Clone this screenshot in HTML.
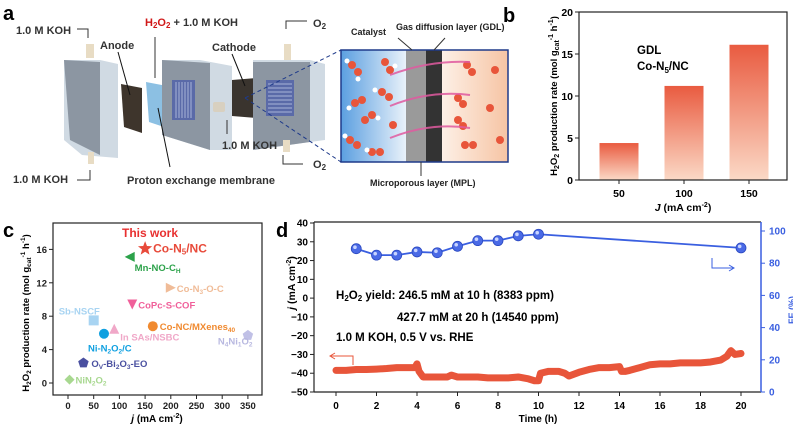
<!DOCTYPE html>
<html><head><meta charset="utf-8">
<style>
html,body{margin:0;padding:0;background:#fff;}
svg{display:block;font-family:"Liberation Sans",sans-serif;}
text{font-weight:bold;}
</style></head>
<body>
<svg id="fig" width="793" height="430" viewBox="0 0 793 430" xmlns="http://www.w3.org/2000/svg">
<defs>
<linearGradient id="barg" x1="0" y1="0" x2="0" y2="1"><stop offset="0" stop-color="#e95b40"/><stop offset="1" stop-color="#fbd9c6"/></linearGradient>
<linearGradient id="elec" x1="0" y1="0" x2="1" y2="0"><stop offset="0" stop-color="#5b9fe0"/><stop offset="1" stop-color="#f4f8fc"/></linearGradient>
<linearGradient id="gas" x1="0" y1="0" x2="1" y2="0"><stop offset="0" stop-color="#fdf0e6"/><stop offset="1" stop-color="#f6c4a4"/></linearGradient>
</defs>

<g>
<text x="3" y="20" font-size="20">a</text>
<text x="16" y="34" font-size="11" fill="#333">1.0 M KOH</text>
<path d="M77 29 H88 V38" stroke="#333" fill="none"/>
<text x="145" y="26" font-size="11" fill="#333"><tspan fill="#d01818">H<tspan font-size="8" dy="2">2</tspan><tspan dy="-2">O</tspan><tspan font-size="8" dy="2">2</tspan></tspan><tspan dy="-2"> + 1.0 M KOH</tspan></text>
<path d="M155 78 V37" stroke="#333"/>
<text x="313" y="27" font-size="11" fill="#333">O<tspan font-size="8" dy="2">2</tspan></text>
<path d="M307 21 H286 V29" stroke="#333" fill="none"/>
<rect x="86" y="44" width="8" height="14" fill="#e8dcc4"/>
<polygon points="64,60 100,60 118,64 118,158 82,155 64,140" fill="#d0dae3"/>
<polygon points="64,60 100,62 100,155 70,140" fill="#8c96a2"/>
<rect x="88" y="152" width="6" height="12" fill="#e8dcc4"/>
<polygon points="121,84 142,88 142,133 124,127" fill="#3e352c"/>
<text x="100" y="49" font-size="11" fill="#333">Anode</text>
<path d="M118 52 L130 95" stroke="#111"/>
<polygon points="146,82 167,86 167,128 149,122" fill="#7fb9e0" opacity="0.9"/>
<polygon points="162,60 200,60 232,66 232,150 210,150 162,135" fill="#d0dae3"/>
<polygon points="162,60 210,63 210,150 162,135" fill="#8c96a2"/>
<rect x="172" y="80" width="23" height="40" fill="#5a6aa8"/>
<g stroke="#a8b4d8" stroke-width="1"><path d="M176 82 V118 M179 82 V118 M182 82 V118 M185 82 V118 M188 82 V118 M191 82 V118"/></g>
<rect x="213" y="102" width="12" height="10" rx="2" fill="#d8d0c0"/>
<polygon points="232,80 257,78 257,118 232,116" fill="#3a342e"/>
<text x="212" y="51" font-size="11" fill="#333">Cathode</text>
<path d="M232 54 L245 86" stroke="#111"/>
<rect x="284" y="44" width="7" height="16" fill="#e8dcc4"/>
<polygon points="253,60 310,60 325,64 325,140 310,142 253,150" fill="#d0dae3"/>
<polygon points="253,62 310,62 310,142 253,150" fill="#8c96a2"/>
<rect x="266" y="80" width="28" height="36" fill="#5a6aa8"/>
<g stroke="#a8b4d8"><path d="M268 84 H292 M268 88 H292 M268 92 H292 M268 96 H292 M268 100 H292 M268 104 H292 M268 108 H292 M268 112 H292"/></g>
<rect x="283" y="140" width="7" height="12" fill="#e8dcc4"/>
<text x="222" y="149" font-size="11" fill="#333">1.0 M KOH</text>
<path d="M227 134 V120" stroke="#333"/>
<text x="313" y="168" font-size="11" fill="#333">O<tspan font-size="8" dy="2">2</tspan></text>
<path d="M283 155 V164 H303" stroke="#333" fill="none"/>
<text x="13" y="183" font-size="11" fill="#333">1.0  M KOH</text>
<path d="M77 180 H90 V170" stroke="#333" fill="none"/>
<text x="127" y="184" font-size="11" fill="#333">Proton exchange membrane</text>
<path d="M170 167 L158 108" stroke="#111"/>
<path d="M245 98 L341 50 M245 98 L341 162" stroke="#1e3a8a" stroke-dasharray="4,3"/>
<rect x="341" y="50" width="70" height="112" fill="url(#elec)"/>
<rect x="406" y="50" width="20" height="112" fill="#9a9a9a"/>
<rect x="426" y="50" width="16" height="112" fill="#333"/>
<rect x="442" y="50" width="66" height="112" fill="url(#gas)"/>
<rect x="341" y="50" width="167" height="112" fill="none" stroke="#1e3a8a" stroke-width="1.5"/>
<g fill="#e8553a">
<circle cx="352" cy="65" r="4"/><circle cx="358" cy="72" r="4"/><circle cx="385" cy="62" r="4"/><circle cx="390" cy="70" r="4"/>
<circle cx="382" cy="92" r="4"/><circle cx="389" cy="97" r="4"/><circle cx="355" cy="103" r="4"/><circle cx="362" cy="100" r="4"/>
<circle cx="365" cy="120" r="4"/><circle cx="372" cy="115" r="4"/><circle cx="393" cy="125" r="4"/><circle cx="350" cy="140" r="4"/><circle cx="357" cy="145" r="4"/>
<circle cx="372" cy="152" r="4"/><circle cx="380" cy="152" r="4"/><circle cx="467" cy="65" r="4"/><circle cx="472" cy="72" r="4"/><circle cx="495" cy="70" r="4"/>
<circle cx="458" cy="98" r="4"/><circle cx="463" cy="104" r="4"/><circle cx="490" cy="108" r="4"/><circle cx="458" cy="120" r="4"/><circle cx="463" cy="126" r="4"/>
<circle cx="465" cy="145" r="4"/><circle cx="473" cy="145" r="4"/><circle cx="500" cy="140" r="4"/></g>
<g fill="#fff"><circle cx="347" cy="61" r="2.5"/><circle cx="358" cy="79" r="2.5"/><circle cx="395" cy="66" r="2.5"/><circle cx="375" cy="90" r="2.5"/><circle cx="349" cy="108" r="2.5"/><circle cx="378" cy="118" r="2.5"/><circle cx="345" cy="136" r="2.5"/><circle cx="367" cy="150" r="2.5"/></g>
<g stroke="#e05aa0" stroke-width="2" fill="none" opacity="0.85"><path d="M390 75 Q430 60 470 62"/><path d="M390 106 Q430 90 470 95"/><path d="M390 138 Q430 122 470 128"/></g>
<text x="351" y="35" font-size="9" fill="#222">Catalyst</text>
<text x="396" y="30" font-size="9" fill="#222">Gas  diffusion layer (GDL)</text>
<path d="M398 38 L412 50 M445 38 L434 50" stroke="#333"/>
<text x="370" y="186" font-size="9" fill="#222">Microporous layer (MPL)</text>
<path d="M421 162 V176" stroke="#333"/>
</g>

<g id="pb"><text x="503" y="22" font-size="20">b</text></g>
<g id="pc"><text x="3" y="237" font-size="20">c</text></g>
<g id="pd"><text x="276" y="237" font-size="20">d</text></g>
</svg>
<script>
const bCategories = [50, 100, 150];
const bValues = [4.4, 11.2, 16.1];
const bYTicks = [0, 5, 10, 15, 20];
const cNames = ["Co-N5/NC","Mn-NO-CH","Co-N3-O-C","CoPc-S-COF","Sb-NSCF","In SAs/NSBC","Co-NC/MXenes40","Ni-N2O2/C","N4Ni1O2","Ov-Bi2O3-EO","NiN2O2"];
const cJ = [150, 120, 200, 125, 50, 90, 165, 70, 350, 30, 3];
const cRate = [16.1, 15.1, 11.4, 9.4, 7.5, 6.5, 6.8, 5.9, 5.7, 2.4, 0.4];
const cXTicks = [0, 50, 100, 150, 200, 250, 300, 350];
const cYTicks = [0, 4, 8, 12, 16];
const dFETime = [1, 2, 3, 4, 5, 6, 7, 8, 9, 10, 20];
const dFE = [89, 85, 85, 87, 86.5, 90.5, 94, 94, 97, 98, 89.5];
const dCurTime = [0,0.5,1,1.5,2,2.5,3,3.5,3.9,4,4.1,4.3,4.5,5,5.5,5.7,6,6.5,7,7.5,8,8.5,9,9.5,9.8,10,10.1,10.5,11,11.3,11.5,12,12.5,13,13.5,14,14.1,14.3,14.5,15,15.5,16,16.5,17,17.5,18,18.5,19,19.3,19.5,19.7,20];
const dCurrent = [-38.5,-38.5,-38,-38,-37.8,-37.5,-37,-37,-37,-35,-39,-42,-42,-42,-42,-41,-42,-42,-42,-42.5,-42.5,-42.5,-42,-43,-44,-44,-40,-39,-39,-40,-41.5,-39.5,-38,-37,-37,-36.5,-39,-39,-38.5,-37,-35.5,-35,-35,-34.5,-34.5,-34.5,-34,-33,-31,-28,-30,-29.5];
const dLeftTicks = [-50,-40,-30,-20,-10,0,10,20,30,40];
const dRightTicks = [0,20,40,60,80,100];
const dXTicks = [0,2,4,6,8,10,12,14,16,18,20];

const NS = "http://www.w3.org/2000/svg";
function mk(parent, tag, attrs, txt){const e=document.createElementNS(NS,tag);for(const k in attrs)e.setAttribute(k,attrs[k]);if(txt!==undefined)e.textContent=txt;parent.appendChild(e);return e;}

(function(){
const g=document.getElementById('pb');
const L=579,R=787,T=12,B=180;
const xb=v=>619+(v-50)*1.3, yb=v=>B-(v/20)*(B-T);
bValues.forEach((v,i)=>{const r=mk(g,'rect',{x:xb(bCategories[i])-19.5,y:yb(v),width:39,height:B-yb(v),fill:'url(#barg)'});

});
mk(g,'rect',{x:L,y:T,width:R-L,height:B-T,fill:'none',stroke:'#222','stroke-width':1.2});
bYTicks.forEach(t=>{mk(g,'line',{x1:L,x2:L-4,y1:yb(t),y2:yb(t),stroke:'#222'});
const tx=mk(g,'text',{x:L-6,y:yb(t)+4,'font-size':10.5,'text-anchor':'end'},t);

});
bCategories.forEach(c=>{mk(g,'line',{x1:xb(c),x2:xb(c),y1:B,y2:B+4,stroke:'#222'});
const tx=mk(g,'text',{x:xb(c),y:B+17,'font-size':10.5,'text-anchor':'middle'},c);

});
const t1=mk(g,'text',{x:637,y:54,'font-size':11.5},'GDL');


const t2=mk(g,'text',{x:637,y:70,'font-size':11.5});t2.innerHTML='Co-N<tspan font-size="8" dy="3">5</tspan><tspan dy="-3">/NC</tspan>';


const xl=mk(g,'text',{x:683,y:211,'font-size':10.5,'text-anchor':'middle'});xl.innerHTML='<tspan font-style="italic">J</tspan> (mA cm<tspan font-size="7" dy="-4">-2</tspan><tspan dy="4">)</tspan>';


const yl=mk(g,'text',{x:0,y:0,'font-size':9.5,'text-anchor':'middle',transform:'translate(557,96) rotate(-90)'});
yl.innerHTML='H<tspan font-size="7" dy="2">2</tspan><tspan dy="-2">O</tspan><tspan font-size="7" dy="2">2</tspan><tspan dy="-2"> production rate (mol g</tspan><tspan font-size="7" dy="2">cat</tspan><tspan font-size="7" dy="-6">-1</tspan><tspan dy="4"> h</tspan><tspan font-size="7" dy="-4">-1</tspan><tspan dy="4">)</tspan>';


})();

(function(){
const g=document.getElementById('pc');
const L=53,R=262,T=223,B=395;
const xc=v=>68+v*0.514, yc=v=>383-v*8.35;
mk(g,'rect',{x:L,y:T,width:R-L,height:B-T,fill:'none',stroke:'#222','stroke-width':1.2});
cXTicks.forEach(t=>{mk(g,'line',{x1:xc(t),x2:xc(t),y1:B,y2:B+4,stroke:'#222'});
const tx=mk(g,'text',{x:xc(t),y:B+14,'font-size':9.5,'font-weight':'normal','text-anchor':'middle',fill:'#222'},t);

});
cYTicks.forEach(t=>{mk(g,'line',{x1:L,x2:L-4,y1:yc(t),y2:yc(t),stroke:'#222'});
const tx=mk(g,'text',{x:L-6,y:yc(t)+3.5,'font-size':9.5,'font-weight':'normal','text-anchor':'end',fill:'#222'},t);

});
const colors=['#e84a3a','#2ca24a','#f0bc98','#f0609a','#a8d4f2','#f0a8c8','#f08a30','#10a0e0','#c0c0e6','#4a50a0','#a8d890'];
const shapes=['star','left','right','down','square','up','circle','circle','pent','pent','diamond'];
const labels=['Co-N<tspan font-size="8" dy="2">5</tspan><tspan dy="-2">/NC</tspan>','Mn-NO-C<tspan font-size="6.5" dy="2">H</tspan>','Co-N<tspan font-size="6.5" dy="2">3</tspan><tspan dy="-2">-O-C</tspan>','CoPc-S-COF','Sb-NSCF','In SAs/NSBC','Co-NC/MXenes<tspan font-size="6.5" dy="2">40</tspan>','Ni-N<tspan font-size="6.5" dy="2">2</tspan><tspan dy="-2">O</tspan><tspan font-size="6.5" dy="2">2</tspan><tspan dy="-2">/C</tspan>','N<tspan font-size="6.5" dy="2">4</tspan><tspan dy="-2">Ni</tspan><tspan font-size="6.5" dy="2">1</tspan><tspan dy="-2">O</tspan><tspan font-size="6.5" dy="2">2</tspan>','O<tspan font-size="6.5" dy="2">V</tspan><tspan dy="-2">-Bi</tspan><tspan font-size="6.5" dy="2">2</tspan><tspan dy="-2">O</tspan><tspan font-size="6.5" dy="2">3</tspan><tspan dy="-2">-EO</tspan>','NiN<tspan font-size="6.5" dy="2">2</tspan><tspan dy="-2">O</tspan><tspan font-size="6.5" dy="2">2</tspan>'];
const loff=[[8,4,12],[5,14,9.5],[6,4,9.5],[6,4,9.5],[-35,-6,9.5],[6,12,9.5],[7,4,9.5],[-16,18,9.5],[-30,9,9.5],[8,4,9.5],[6,4,9.5]];
const lcol=['#e84a3a','#2ca24a','#f0bc98','#f0609a','#a8d4f2','#f0a8c8','#f08a30','#10a0e0','#b8b8e0','#4a50a0','#a8d890'];
cNames.forEach((n,i)=>{const x=xc(cJ[i]),y=yc(cRate[i]),s=5,c=colors[i];let el;
if(shapes[i]==='circle')el=mk(g,'circle',{cx:x,cy:y,r:s,fill:c});
else if(shapes[i]==='square')el=mk(g,'rect',{x:x-s,y:y-s,width:2*s,height:2*s,fill:c});
else{let pts;
if(shapes[i]==='star'){pts=[];for(let k=0;k<10;k++){const a=-Math.PI/2+k*Math.PI/5,r=k%2?3.2:7.5;pts.push([x+r*Math.cos(a),y+r*Math.sin(a)]);}}
else if(shapes[i]==='pent'){pts=[];for(let k=0;k<5;k++){const a=-Math.PI/2+k*2*Math.PI/5;pts.push([x+5.5*Math.cos(a),y+5.5*Math.sin(a)]);}}
else if(shapes[i]==='left')pts=[[x-s,y],[x+s,y-s],[x+s,y+s]];
else if(shapes[i]==='right')pts=[[x+s,y],[x-s,y-s],[x-s,y+s]];
else if(shapes[i]==='down')pts=[[x-s,y-s],[x+s,y-s],[x,y+s]];
else if(shapes[i]==='up')pts=[[x-s,y+s],[x+s,y+s],[x,y-s]];
else pts=[[x,y-s],[x+s,y],[x,y+s],[x-s,y]];
el=mk(g,'polygon',{points:pts.map(p=>p.join(',')).join(' '),fill:c});}


const t=mk(g,'text',{x:x+loff[i][0],y:y+loff[i][1],'font-size':loff[i][2],fill:lcol[i]});t.innerHTML=labels[i];

});
const tw=mk(g,'text',{x:122,y:237,'font-size':12,fill:'#e83030'},'This work');


const xl=mk(g,'text',{x:157,y:422,'font-size':10,'text-anchor':'middle'});xl.innerHTML='<tspan font-style="italic">j</tspan> (mA cm<tspan font-size="7" dy="-4">-2</tspan><tspan dy="4">)</tspan>';


const yl=mk(g,'text',{x:0,y:0,'font-size':9.5,'text-anchor':'middle',transform:'translate(29,313) rotate(-90)'});
yl.innerHTML='H<tspan font-size="6.5" dy="2">2</tspan><tspan dy="-2">O</tspan><tspan font-size="6.5" dy="2">2</tspan><tspan dy="-2"> production rate (mol g</tspan><tspan font-size="6.5" dy="2">cat</tspan><tspan font-size="6.5" dy="-6">-1</tspan><tspan dy="4"> h</tspan><tspan font-size="6.5" dy="-4">-1</tspan><tspan dy="4">)</tspan>';


})();

(function(){
const g=document.getElementById('pd');
const L=314,R=761,T=222,B=392;
const xd=v=>336+v*20.25, yl=v=>392-(v+50)*(169/90), yr=v=>392-v*1.61;
const cp=mk(g,'polyline',{points:dCurTime.map((t,i)=>xd(t)+','+yl(dCurrent[i])).join(' '),fill:'none',stroke:'#e8553a','stroke-width':7,'stroke-linejoin':'round','stroke-linecap':'round'});


const fl=mk(g,'polyline',{points:dFETime.map((t,i)=>xd(t)+','+yr(dFE[i])).join(' '),fill:'none',stroke:'#3a5fe0','stroke-width':1.8});


dFETime.forEach((t,i)=>{const c=mk(g,'circle',{cx:xd(t),cy:yr(dFE[i]),r:5,fill:'#4a6ae6',stroke:'#2a48c0','stroke-width':0.8});


mk(g,'circle',{cx:xd(t)-1.3,cy:yr(dFE[i])-1.5,r:1.8,fill:'#c8d4ff'});});
mk(g,'line',{x1:L,y1:T,x2:R,y2:T,stroke:'#222','stroke-width':1.2});
mk(g,'line',{x1:L,y1:T,x2:L,y2:B,stroke:'#222','stroke-width':1.2});
mk(g,'line',{x1:L,y1:B,x2:R,y2:B,stroke:'#222','stroke-width':1.2});
mk(g,'line',{x1:R,y1:T,x2:R,y2:B,stroke:'#3a5fe0','stroke-width':1.5});
dLeftTicks.forEach(t=>{mk(g,'line',{x1:L,x2:L-4,y1:yl(t),y2:yl(t),stroke:'#222'});
const tx=mk(g,'text',{x:L-6,y:yl(t)+3.5,'font-size':10,'text-anchor':'end'},t===0?'0':(t<0?'\u2212'+(-t):t));

});
dRightTicks.forEach(t=>{mk(g,'line',{x1:R,x2:R+4,y1:yr(t),y2:yr(t),stroke:'#3a5fe0'});
const tx=mk(g,'text',{x:R+8,y:yr(t)+3.5,'font-size':10,'font-weight':'normal',fill:'#3a5fe0'},t);

});
dXTicks.forEach(t=>{mk(g,'line',{x1:xd(t),x2:xd(t),y1:B,y2:B+4,stroke:'#222'});
const tx=mk(g,'text',{x:xd(t),y:B+17,'font-size':10,'text-anchor':'middle'},t);

});
const xt=mk(g,'text',{x:538,y:422,'font-size':10,'text-anchor':'middle'},'Time (h)');


const yt=mk(g,'text',{x:0,y:0,'font-size':10.5,'text-anchor':'middle',transform:'translate(295,283) rotate(-90)'});
yt.innerHTML='<tspan font-style="italic">j</tspan> (mA cm<tspan font-size="7" dy="-4">-2</tspan><tspan dy="4">)</tspan>';


const yr2=mk(g,'text',{x:0,y:0,'font-size':9,fill:'#3a5fe0','text-anchor':'middle',transform:'translate(795,310) rotate(-90)'},'FE (%)');


const a1=mk(g,'text',{x:336,y:299,'font-size':11.5});a1.innerHTML='H<tspan font-size="8" dy="2">2</tspan><tspan dy="-2">O</tspan><tspan font-size="8" dy="2">2</tspan><tspan dy="-2"> yield: 246.5 mM at 10 h (8383 ppm)</tspan>';


const a2=mk(g,'text',{x:397,y:321,'font-size':11.5},'427.7 mM at 20 h (14540 ppm)');


const a3=mk(g,'text',{x:336,y:341,'font-size':11.5},'1.0 M KOH, 0.5 V vs. RHE');


mk(g,'path',{d:'M353 365 V356 H331',stroke:'#e8553a',fill:'none'});
mk(g,'path',{d:'M335 353 L330 356 L335 359',stroke:'#e8553a',fill:'none'});
mk(g,'path',{d:'M712 258 V268 H733',stroke:'#3a5fe0',fill:'none'});
mk(g,'path',{d:'M729 265 L734 268 L729 271',stroke:'#3a5fe0',fill:'none'});
})();
</script>
</body></html>
